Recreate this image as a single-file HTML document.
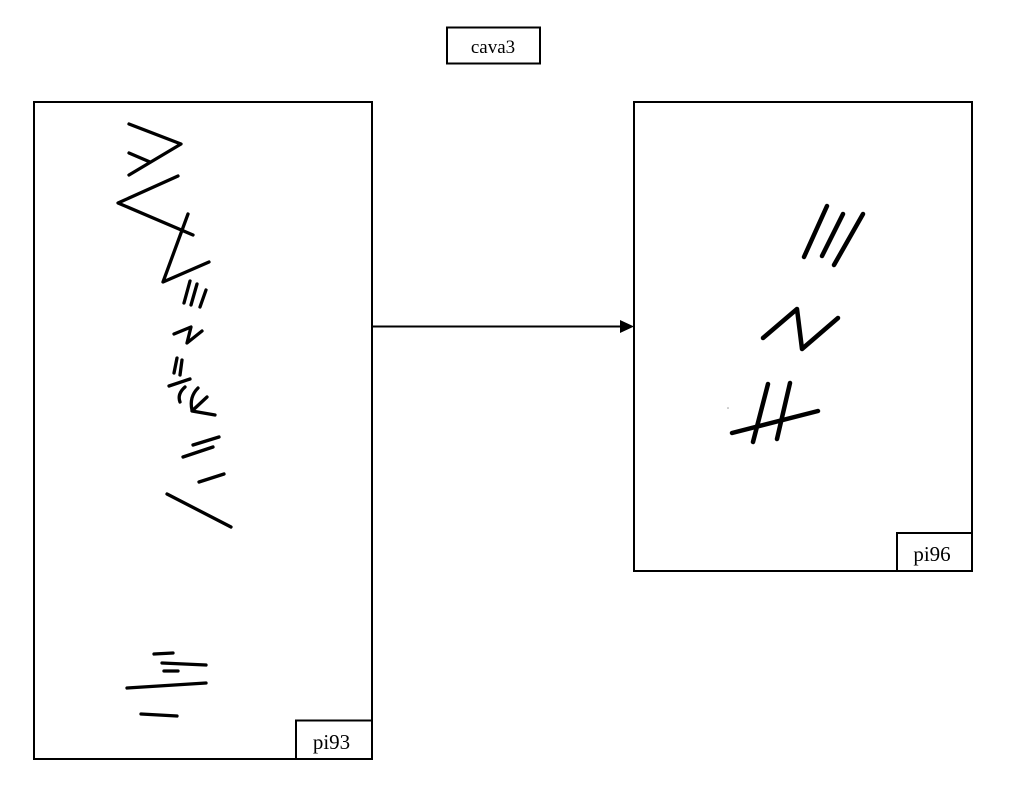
<!DOCTYPE html>
<html>
<head>
<meta charset="utf-8">
<style>
html,body{margin:0;padding:0;background:#fff;}
svg{display:block;}
text{font-family:"Liberation Serif",serif;fill:#000;}
</style>
</head>
<body>
<svg width="1013" height="791" viewBox="0 0 1013 791" xmlns="http://www.w3.org/2000/svg">
<rect x="0" y="0" width="1013" height="791" fill="#fff"/>
<!-- cava3 label -->
<rect x="447" y="27.5" width="93" height="36" fill="none" stroke="#000" stroke-width="2"/>
<text x="493" y="53" text-anchor="middle" font-size="19">cava3</text>

<!-- left box -->
<rect x="34" y="102" width="338" height="657" fill="none" stroke="#000" stroke-width="2"/>
<rect x="296" y="720.5" width="76" height="38.5" fill="none" stroke="#000" stroke-width="2"/>
<text x="331.5" y="749" text-anchor="middle" font-size="21">pi93</text>

<!-- right box -->
<rect x="634" y="102" width="338" height="469" fill="none" stroke="#000" stroke-width="2"/>
<rect x="897" y="533" width="75" height="38" fill="none" stroke="#000" stroke-width="2"/>
<text x="932" y="561" text-anchor="middle" font-size="21">pi96</text>

<!-- arrow -->
<line x1="372" y1="326.5" x2="622" y2="326.5" stroke="#000" stroke-width="2"/>
<polygon points="620,320 634,326.5 620,333" fill="#000"/>

<!-- left handwriting -->
<g fill="none" stroke="#000" stroke-width="3.3" stroke-linecap="round" stroke-linejoin="round">
<polyline points="129,124 181,144 129,175"/>
<line x1="129" y1="153" x2="150" y2="162"/>
<polyline points="178,176 118,203 193,235"/>
<polyline points="188,214 163,282 209,262"/>
<line x1="190" y1="281" x2="184" y2="303"/>
<line x1="197" y1="284" x2="191" y2="305"/>
<line x1="206" y1="290" x2="200" y2="307"/>
<polyline points="174,334 191,327 187,343 202,331"/>
<line x1="177" y1="358" x2="174" y2="373"/>
<line x1="182" y1="360" x2="180" y2="375"/>
<line x1="169" y1="386" x2="190" y2="379"/>
<path d="M185,387 Q177,394 180,402"/>
<path d="M198,388 Q189,397 192,410"/>
<polyline points="207,397 192,411 215,415"/>
<line x1="193" y1="445" x2="219" y2="437"/>
<line x1="183" y1="457" x2="213" y2="447"/>
<line x1="199" y1="482" x2="224" y2="474"/>
<line x1="167" y1="494" x2="231" y2="527"/>
<line x1="154" y1="654" x2="173" y2="653"/>
<line x1="162" y1="663" x2="206" y2="665"/>
<line x1="164" y1="671" x2="178" y2="671"/>
<line x1="127" y1="688" x2="206" y2="683"/>
<line x1="141" y1="714" x2="177" y2="716"/>
</g>

<!-- right handwriting -->
<g fill="none" stroke="#000" stroke-width="4.5" stroke-linecap="round" stroke-linejoin="round">
<line x1="827" y1="206" x2="804" y2="257"/>
<line x1="843" y1="214" x2="822" y2="256"/>
<line x1="863" y1="214" x2="834" y2="265"/>
<polyline points="763,338 797,309 802,349 838,318"/>
<line x1="768" y1="384" x2="753" y2="442"/>
<line x1="790" y1="383" x2="777" y2="439"/>
<line x1="732" y1="433" x2="818" y2="411"/>
</g>
<circle cx="728" cy="408" r="0.8" fill="#999"/>
</svg>
</body>
</html>
